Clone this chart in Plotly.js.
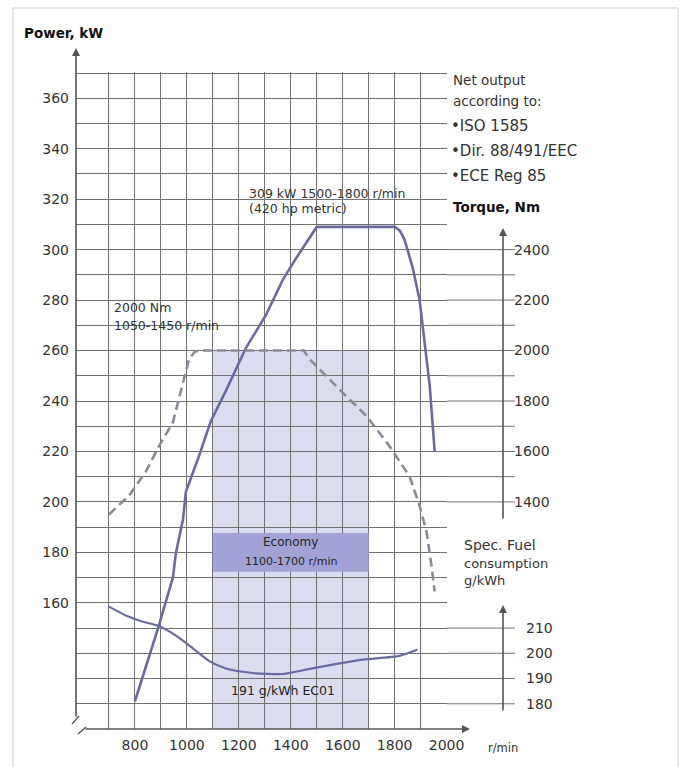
<!DOCTYPE html>
<html>
<head>
<meta charset="utf-8">
<script src="https://cdn.plot.ly/plotly-3.0.1.min.js"></script>
<style>html,body{margin:0;padding:0;background:#fff;}#chart{width:686px;height:767px;}</style>
</head>
<body>
<div id="chart"></div>
<script>
// ---- data ----
const rpmPower = [800, 831, 892, 946, 958, 985, 996, 1046, 1092, 1150, 1227, 1304, 1369, 1423, 1500, 1800, 1820, 1838, 1869, 1896, 1915, 1935, 1954];
const powerKW  = [121, 131, 151, 170, 180, 193, 204, 218, 232, 244, 261, 274, 288, 297, 309, 309, 307.5, 304, 293, 280, 264, 246, 220];

const rpmTorque = [700, 777, 842, 892, 946, 969, 996, 1008, 1030, 1050, 1450, 1473, 1588, 1692, 1781, 1858, 1896, 1923, 1942, 1954];
const torqueNm  = [1350, 1425, 1520, 1620, 1715, 1805, 1915, 1965, 1995, 2000, 2000, 1965, 1845, 1740, 1620, 1500, 1385, 1280, 1145, 1045];

const rpmFuel   = [700, 765, 831, 888, 958, 1023, 1085, 1150, 1254, 1369, 1473, 1577, 1677, 1819, 1888];
const fuelGkWh  = [218.5, 215, 212.5, 211, 207, 202, 197, 194, 192.2, 191.8, 193.8, 195.8, 197.5, 199, 201.5];

const economyRpm = [1100, 1700];
const economyTopTorque = 2000;

const rpmTickLabels    = [800, 1000, 1200, 1400, 1600, 1800, 2000];
const powerTickLabels  = [160, 180, 200, 220, 240, 260, 280, 300, 320, 340, 360];
const torqueTickLabels = [1400, 1600, 1800, 2000, 2200, 2400];
const fuelTickLabels   = [180, 190, 200, 210];

// ---- axis relations (secondary scales share the grid) ----
const kwRange = [110, 370.4];
const torqueFromKW = kw => (kw - 60) * 10;
const fuelFromKW = kw => kw + 60;
const kwFromTorque = t => t / 10 + 60;

// grid values
const rpmGrid = []; for (let r = 700; r <= 2000; r += 100) rpmGrid.push(r);
const kwGrid = []; for (let k = 120; k <= 370; k += 10) kwGrid.push(k);
const torqueGrid = []; for (let t = 1400; t <= 2400; t += 100) torqueGrid.push(t);

// pixel -> paper helpers (plot area 76..520 x 72..729)
const L = 76, R = 520, T = 72, B = 729;
const fx = p => (p - L) / (R - L);
const fy = p => (B - p) / (B - T);
const gridEnd = fx(447), extEnd = fx(515), sideAxis = fx(503);

const gridColor = '#727272';
const textColor = '#333';

const traces = [
  {x: rpmPower, y: powerKW, type: 'scatter', mode: 'lines', xaxis: 'x', yaxis: 'y',
   line: {color: '#6a6aa2', width: 2.6}, hoverinfo: 'skip'},
  {x: rpmTorque, y: torqueNm, type: 'scatter', mode: 'lines', xaxis: 'x', yaxis: 'y2',
   line: {color: '#8a8a98', width: 2.6, dash: '9px,5px'}, hoverinfo: 'skip'},
  {x: rpmFuel, y: fuelGkWh, type: 'scatter', mode: 'lines', xaxis: 'x', yaxis: 'y3',
   line: {color: '#6a6aa2', width: 2.2, shape: 'spline', smoothing: 0.6}, hoverinfo: 'skip'}
];

const shapes = [
  // economy band
  {type: 'rect', xref: 'x', yref: 'y', x0: economyRpm[0], x1: economyRpm[1],
   y0: kwRange[0], y1: kwFromTorque(economyTopTorque), fillcolor: '#dcdcf0', line: {width: 0}, layer: 'below'},
  // economy label box
  {type: 'rect', xref: 'x', yref: 'y', x0: economyRpm[0], x1: economyRpm[1],
   y0: 172.3, y1: 187.7, fillcolor: '#a2a2d6', line: {width: 0}, layer: 'between'},
  // outer faint frame
  {type: 'rect', xref: 'paper', yref: 'paper', x0: fx(13), x1: fx(678), y0: fy(790), y1: fy(8),
   line: {color: '#cfcfcf', width: 1}, fillcolor: 'rgba(0,0,0,0)'},
  // axis break marks near the origin
  {type: 'line', xref: 'paper', yref: 'paper', x0: fx(72), y0: fy(724), x1: fx(79), y1: fy(716),
   line: {color: '#555', width: 1.4}},
  {type: 'line', xref: 'paper', yref: 'paper', x0: fx(78), y0: fy(734), x1: fx(86), y1: fy(727),
   line: {color: '#555', width: 1.4}}
];
// grid extensions next to the torque and fuel scales
torqueGrid.forEach(t => shapes.push({type: 'line', xref: 'paper', yref: 'y2', x0: gridEnd, x1: extEnd, y0: t, y1: t,
  line: {color: gridColor, width: 1}}));
fuelTickLabels.forEach(f => shapes.push({type: 'line', xref: 'paper', yref: 'y3', x0: gridEnd, x1: extEnd, y0: f, y1: f,
  line: {color: gridColor, width: 1}}));

const arrow = (hx, hy, ax, ay) => ({xref: 'paper', yref: 'paper', x: fx(hx), y: fy(hy), ax: ax, ay: ay,
  text: '', showarrow: true, arrowhead: 2, arrowsize: 1, arrowwidth: 1.6, arrowcolor: '#555'});
const label = (text, x, y, size, anchor, extra) => Object.assign({xref: 'paper', yref: 'paper', x: fx(x), y: fy(y),
  text: text, showarrow: false, xanchor: anchor || 'left', yanchor: 'middle',
  font: {size: size, color: textColor, family: 'DejaVu Sans'}}, extra || {});

const annotations = [
  arrow(76, 48, 0, 670),          // power axis
  arrow(470, 729, -386, 0),       // rpm axis
  arrow(503, 228, 0, 292),        // torque axis
  arrow(503, 605, 0, 107),        // fuel axis
  label('<b>Power, kW</b>', 22, 33, 13.5, 'left', {font: {size: 13.5, color: '#111', family: 'DejaVu Sans'}}),
  label('309 kW 1500-1800 r/min', 247, 193, 12.5),
  label('(420 hp metric)', 247, 208, 12.5),
  label('2000 Nm', 112, 307, 12.5),
  label('1050-1450 r/min', 112, 325, 12.5),
  label('Net output', 451, 80, 13.5),
  label('according to:', 451, 101, 13.5),
  label('•ISO 1585', 449, 126, 15),
  label('•Dir. 88/491/EEC', 449, 151, 15),
  label('•ECE Reg 85', 449, 176, 15),
  label('<b>Torque, Nm</b>', 451, 207, 13.5, 'left', {font: {size: 13.5, color: '#111', family: 'DejaVu Sans'}}),
  label('Spec. Fuel', 462, 545, 14),
  label('consumption', 462, 563, 13),
  label('g/kWh', 462, 580, 13),
  label('r/min', 503, 748, 11.5, 'center'),
  {xref: 'x', yref: 'y', x: (economyRpm[0] + economyRpm[1]) / 2, y: 184, text: 'Economy', showarrow: false,
   font: {size: 12, color: '#222', family: 'DejaVu Sans'}},
  {xref: 'x', yref: 'y', x: (economyRpm[0] + economyRpm[1]) / 2, y: 176.5, text: economyRpm[0] + '-' + economyRpm[1] + ' r/min', showarrow: false,
   font: {size: 11, color: '#222', family: 'DejaVu Sans'}},
  {xref: 'x', yref: 'y', x: 1370, y: 125.3, text: '191 g/kWh EC01', showarrow: false,
   font: {size: 12.5, color: '#222', family: 'DejaVu Sans'}}
];

const layout = {
  width: 686, height: 767,
  margin: {l: L, r: 686 - R, t: T, b: 767 - B, pad: 0},
  paper_bgcolor: '#fff', plot_bgcolor: '#fff',
  showlegend: false,
  font: {family: 'DejaVu Sans', color: textColor, size: 14},
  xaxis: {domain: [0, fx(447)], range: [573, 2001.5], tickmode: 'array', tickvals: rpmGrid,
    ticktext: rpmGrid.map(v => rpmTickLabels.includes(v) ? String(v) : ''),
    showgrid: true, gridcolor: gridColor, gridwidth: 1, zeroline: false, showline: false, ticks: '',
    tickfont: {size: 14, color: textColor}, ticklabelstandoff: 6, fixedrange: true},
  yaxis: {domain: [0, 1], range: kwRange, tickmode: 'array', tickvals: kwGrid,
    ticktext: kwGrid.map(v => powerTickLabels.includes(v) ? String(v) : ''),
    showgrid: true, gridcolor: gridColor, gridwidth: 1, zeroline: false, showline: false, ticks: '',
    tickfont: {size: 14, color: textColor}, ticklabelstandoff: 6, fixedrange: true},
  yaxis2: {overlaying: 'y', anchor: 'free', position: sideAxis, side: 'right',
    range: kwRange.map(torqueFromKW), tickmode: 'array', tickvals: torqueTickLabels,
    showgrid: false, zeroline: false, showline: false, ticks: '',
    tickfont: {size: 14, color: textColor}, ticklabelstandoff: 10, fixedrange: true},
  yaxis3: {overlaying: 'y', anchor: 'free', position: sideAxis, side: 'right',
    range: kwRange.map(fuelFromKW), tickmode: 'array', tickvals: fuelTickLabels,
    showgrid: false, zeroline: false, showline: false, ticks: '',
    tickfont: {size: 14, color: textColor}, ticklabelstandoff: 22, fixedrange: true},
  shapes: shapes,
  annotations: annotations
};

Plotly.newPlot('chart', traces, layout, {displayModeBar: false, staticPlot: true});
</script>
</body>
</html>
